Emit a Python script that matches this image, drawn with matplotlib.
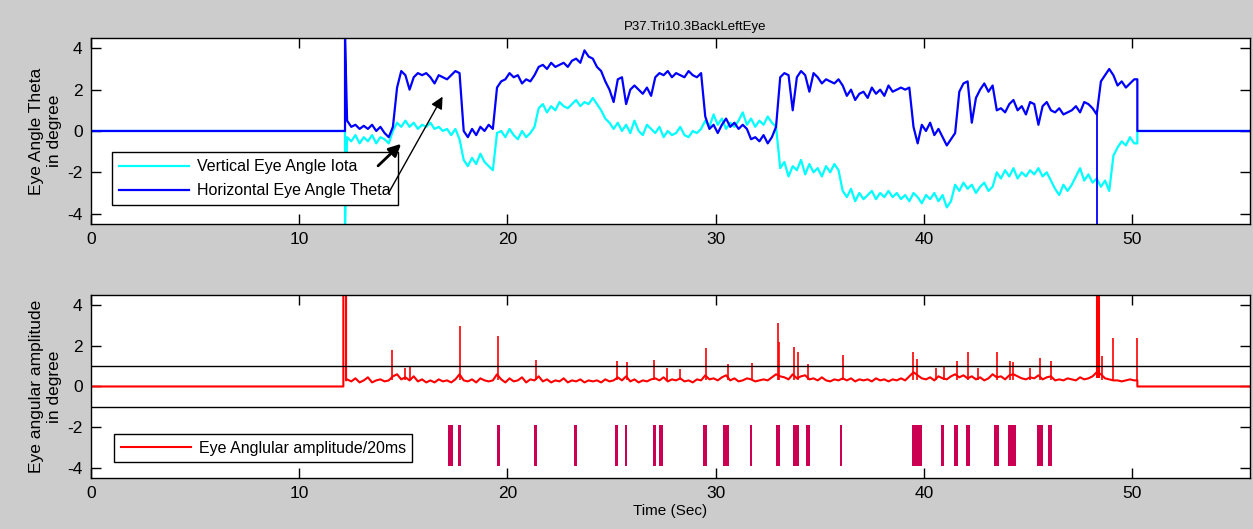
import numpy as np
import matplotlib.pyplot as plt

plt.rcParams['font.family'] = ['Liberation Sans', 'DejaVu Sans']
plt.rcParams['axes.unicode_minus'] = False

# eye angle samples, every 0.2 s starting at 12.3 s (degrees)
theta = [0.5, 0.2, 0.3, 0.1, 0.25,
         0.1, 0.3, 0.0, 0.2, -0.1,
         -0.3, 0.2, 2.1, 2.9, 2.7,
         2.0, 2.6, 2.8, 2.7, 2.8,
         2.6, 2.3, 2.7, 2.6, 2.5,
         2.7, 2.9, 2.8, 0.0, -0.3,
         0.1, -0.2, 0.2, 0.0, 0.3,
         0.1, 2.1, 2.4, 2.5, 2.8,
         2.6, 2.7, 2.3, 2.5, 2.4,
         2.7, 3.1, 3.2, 3.0, 3.3,
         3.1, 3.2, 3.3, 3.1, 3.4,
         3.5, 3.3, 3.9, 3.6, 3.5,
         3.1, 2.9, 2.4, 2.0, 1.4,
         2.5, 2.6, 1.3, 2.0, 2.2,
         2.0, 1.8, 2.1, 1.7, 2.6,
         2.8, 2.7, 2.9, 2.6, 2.8,
         2.7, 2.6, 2.9, 2.7, 2.6,
         2.8, 0.7, 0.1, 0.3, -0.1,
         0.3, 0.6, 0.2, 0.4, 0.1,
         0.3, 0.1, -0.4, -0.3, -0.5,
         -0.2, -0.6, -0.3, 0.2, 2.6,
         2.8, 2.7, 1.0, 2.6, 2.9,
         2.7, 1.9, 2.8, 2.6, 2.3,
         2.5, 2.4, 2.3, 2.5, 2.2,
         1.7, 2.0, 1.5, 1.8, 1.9,
         1.6, 2.1, 1.8, 2.0, 1.7,
         2.2, 1.9, 2.0, 2.1, 2.0,
         2.1, 0.2, -0.6, 0.3, 0.0,
         0.4, -0.2, 0.1, -0.3, -0.7,
         -0.4, -0.1, 1.9, 2.3, 2.4,
         0.4, 1.6, 2.0, 2.3, 1.9,
         2.2, 1.0, 1.1, 0.9, 1.3,
         1.5, 1.0, 1.2, 0.8, 1.4,
         1.3, 0.3, 1.2, 1.4, 1.0,
         0.9, 1.1, 0.8, 0.9, 1.0,
         1.2, 0.9, 1.4, 1.3, 1.1,
         0.8, 2.4, 2.7, 3.0, 2.7,
         2.2, 2.4, 2.1, 2.3, 2.5]

iota = [-0.3, -0.5, -0.2, -0.6, -0.3,
        -0.5, -0.2, -0.6, -0.3, -0.4,
        -0.6, 0.0, 0.4, 0.2, 0.5,
        0.2, 0.4, 0.1, 0.3, 0.2,
        0.4, 0.1, 0.2, 0.0, 0.1,
        -0.2, 0.1, -0.4, -1.4, -1.7,
        -1.3, -1.6, -1.1, -1.5, -1.7,
        -1.9, -0.1, 0.0, -0.3, 0.1,
        -0.2, -0.4, 0.0, -0.3, -0.1,
        0.2, 1.1, 1.3, 0.9, 1.2,
        1.0, 1.4, 1.2, 1.1, 1.3,
        1.5, 1.2, 1.4, 1.3, 1.6,
        1.3, 1.0, 0.6, 0.4, 0.1,
        0.4, 0.0, 0.3, -0.1, 0.5,
        0.0, -0.2, 0.3, 0.1, -0.1,
        0.2, -0.3, 0.0, -0.2, -0.1,
        0.2, -0.2, -0.3, 0.0, -0.1,
        0.1, 0.5, 0.2, 0.8, 0.3,
        0.6, 0.1, 0.4, 0.2, 0.5,
        0.9, 0.3, 0.6, 0.2, 0.5,
        0.3, 0.7, 0.4, 0.2, -1.8,
        -1.5, -2.2, -1.7, -1.9, -1.4,
        -2.1, -1.6, -2.0, -1.8, -2.2,
        -1.7, -2.0, -1.6, -1.9, -2.9,
        -3.2, -2.8, -3.4, -3.0, -3.3,
        -3.1, -2.9, -3.3, -3.0, -3.2,
        -2.9, -3.2, -3.0, -3.3, -3.1,
        -3.4, -3.0, -3.2, -3.5, -3.1,
        -3.3, -3.0, -3.4, -3.1, -3.7,
        -3.4, -2.6, -2.9, -2.5, -2.8,
        -2.6, -3.0, -2.7, -2.5, -2.9,
        -2.7, -2.0, -2.3, -1.9, -2.2,
        -1.8, -2.3, -2.0, -2.2, -1.9,
        -2.1, -1.8, -2.2, -2.0, -2.4,
        -2.8, -3.1, -2.6, -2.9, -2.6,
        -2.2, -1.8, -2.4, -2.1, -2.5,
        -2.3, -2.7, -2.4, -2.9, -1.2,
        -0.8, -0.5, -0.7, -0.3, -0.6]

# angular amplitude per 20ms, baseline samples every 0.2 s from 12.3 s
amp = [0.35, 0.25, 0.4, 0.2, 0.3,
       0.45, 0.2, 0.3, 0.35, 0.25,
       0.3, 0.5, 0.6, 0.35, 0.45,
       0.3, 0.5, 0.25, 0.35, 0.2,
       0.3, 0.2, 0.35, 0.25, 0.3,
       0.2, 0.35, 0.6, 0.3, 0.25,
       0.35, 0.2, 0.4, 0.3, 0.25,
       0.3, 0.6, 0.35, 0.2, 0.4,
       0.25, 0.3, 0.45, 0.2, 0.35,
       0.3, 0.5, 0.25, 0.35, 0.2,
       0.3, 0.25, 0.4, 0.2, 0.3,
       0.25, 0.35, 0.2, 0.3, 0.25,
       0.3, 0.2, 0.35, 0.25, 0.3,
       0.45, 0.3, 0.5, 0.25, 0.35,
       0.2, 0.3, 0.25, 0.35, 0.4,
       0.3, 0.45, 0.25, 0.35, 0.3,
       0.4, 0.25, 0.3, 0.2, 0.35,
       0.3, 0.55, 0.35, 0.4, 0.3,
       0.45, 0.55, 0.3, 0.4, 0.25,
       0.3, 0.4, 0.35, 0.25, 0.3,
       0.35, 0.3, 0.45, 0.6, 0.5,
       0.45, 0.35, 0.6, 0.4, 0.5,
       0.55, 0.35, 0.4, 0.3, 0.45,
       0.3, 0.25, 0.35, 0.3, 0.4,
       0.3, 0.4, 0.25, 0.35, 0.3,
       0.35, 0.25, 0.4, 0.3, 0.35,
       0.25, 0.35, 0.3, 0.4, 0.3,
       0.5, 0.7, 0.55, 0.4, 0.35,
       0.45, 0.3, 0.5, 0.4, 0.35,
       0.5, 0.6, 0.45, 0.55, 0.4,
       0.5, 0.35, 0.45, 0.3, 0.4,
       0.6, 0.45, 0.5, 0.35, 0.55,
       0.6, 0.5, 0.4, 0.35, 0.45,
       0.4, 0.55, 0.35, 0.45, 0.5,
       0.3, 0.35, 0.3, 0.4, 0.35,
       0.3, 0.45, 0.35, 0.4, 0.5,
       0.7, 0.6, 0.4, 0.35, 0.3,
       0.3, 0.25, 0.3, 0.35, 0.3]

spike_t = [14.44, 15.1, 15.3, 17.72, 19.55, 21.37, 25.25, 25.75, 27.05, 27.67,
           28.3, 29.55, 30.6, 31.75, 32.98, 33.05, 33.77, 33.96, 34.44, 36.12,
           39.48, 39.67, 40.58, 40.97, 41.58, 42.13, 42.6, 43.5, 44.15, 44.3,
           45.1, 45.58, 46.1, 48.55, 49.1, 50.22]
spike_h = [1.8, 0.9, 0.95, 2.95, 2.47, 1.3, 1.25, 1.2, 1.3, 0.9,
           0.85, 1.88, 1.1, 1.15, 3.13, 2.17, 1.93, 1.7, 1.1, 1.54,
           1.68, 1.35, 0.9, 1.0, 1.27, 1.7, 0.9, 1.7, 1.27, 1.2,
           0.9, 1.4, 1.27, 1.5, 2.36, 2.4]
big_spike_t = [48.3, 48.36, 48.42]

# detected saccade intervals (start, end) in seconds
sacc_start = [17.15, 17.63, 19.5, 21.28, 23.2, 25.17, 25.65, 26.98, 27.28, 29.39,
              30.35, 31.65, 32.9, 33.72, 34.34, 35.98, 39.43, 40.83, 41.45, 42.03,
              43.37, 44.04, 45.44, 45.97]
sacc_end = [17.39, 17.77, 19.64, 21.42, 23.34, 25.31, 25.74, 27.14, 27.47, 29.58,
            30.64, 31.75, 33.09, 34.0, 34.53, 36.07, 39.91, 40.97, 41.64, 42.22,
            43.61, 44.43, 45.73, 46.16]

t_on, t_off, t_end = 12.2, 50.25, 55.66
t = 12.3 + 0.2 * np.arange(len(theta))

fig = plt.figure(figsize=(12.53, 5.29), dpi=100, facecolor='#CCCCCC')
ax1 = fig.add_axes([0.0726, 0.5766, 0.925, 0.3516])
ax2 = fig.add_axes([0.0726, 0.0964, 0.925, 0.346])

# top: eye angles
tt = np.concatenate([[0, t_on, t_on], t, [t_off, t_off, t_end]])
iota_full = np.concatenate([[0, 0, -4.6], iota, [iota[-1], 0, 0]])
theta_full = np.concatenate([[0, 0, 4.6], theta, [theta[-1], 0, 0]])
ax1.plot(tt, iota_full, color='#00FFFF', lw=1.6, label='Vertical Eye Angle Iota')
ax1.plot(tt, theta_full, color='#0000FF', lw=1.6, label='Horizontal Eye Angle Theta')
ax1.vlines(48.3, -4.6, 1.0, color='#0000FF', lw=1.3)
ax1.set_title('P37.Tri10.3BackLeftEye', fontsize=9.5, pad=6, x=0.521)
ax1.set_ylabel('Eye Angle Theta\nin degree', fontsize=12.5)
leg1 = ax1.legend(loc='lower left', bbox_to_anchor=(0.018, 0.1), fontsize=11.5,
                  fancybox=False, framealpha=1, edgecolor='k', handlelength=4.4,
                  borderaxespad=0, handletextpad=0.5, borderpad=0.45, labelspacing=0.55)
leg1.get_frame().set_linewidth(1.0)
ax1.annotate('', xy=(14.99, -0.53), xytext=(13.69, -1.78),
             arrowprops=dict(arrowstyle='-|>', color='k', lw=2, mutation_scale=18),
             zorder=7)
ax1.annotate('', xy=(16.95, 1.78), xytext=(14.22, -3.13),
             arrowprops=dict(arrowstyle='-|>', color='k', lw=1, mutation_scale=18),
             zorder=7)

# bottom: angular amplitude and detected saccades
ta = np.concatenate([[0, 12.12, 12.12, 12.25, 12.25], t, [t_off, t_off, t_end]])
amp_full = np.concatenate([[0, 0, 4.6, 4.6, 0.3], amp, [amp[-1], 0, 0]])
ax2.plot(ta, amp_full, color='#FF0000', lw=1.5, label='Eye Anglular amplitude/20ms')
ax2.vlines(spike_t, 0.3, spike_h, color='#FF0000', lw=1.2)
ax2.vlines(big_spike_t, 0.4, 4.6, color='#FF0000', lw=1.5)
ax2.axhline(1, color='k', lw=1)
ax2.axhline(-1, color='k', lw=1)
widths = np.array(sacc_end) - np.array(sacc_start)
ax2.bar(sacc_start, 2.0, width=widths, bottom=-3.9, align='edge', color='#CC0052')
ax2.set_ylabel('Eye angular amplitude\nin degree', fontsize=12.5)
ax2.set_xlabel('Time (Sec)', fontsize=11, labelpad=2)
leg2 = ax2.legend(loc='lower left', bbox_to_anchor=(0.02, 0.087), fontsize=11.5,
                  fancybox=False, framealpha=1, edgecolor='k', handlelength=4.4,
                  borderaxespad=0, handletextpad=0.5, borderpad=0.4)
leg2.get_frame().set_linewidth(1.0)

for ax in (ax1, ax2):
    ax.set_xlim(0, t_end)
    ax.set_ylim(-4.5, 4.5)
    ax.set_xticks([0, 10, 20, 30, 40, 50])
    ax.set_yticks([-4, -2, 0, 2, 4])
    ax.tick_params(direction='in', length=7, width=1, top=True, right=True,
                   labelsize=12.5, pad=6)
    for s in ax.spines.values():
        s.set_linewidth(1.0)

fig.savefig('out.png', dpi=100, facecolor=fig.get_facecolor())
